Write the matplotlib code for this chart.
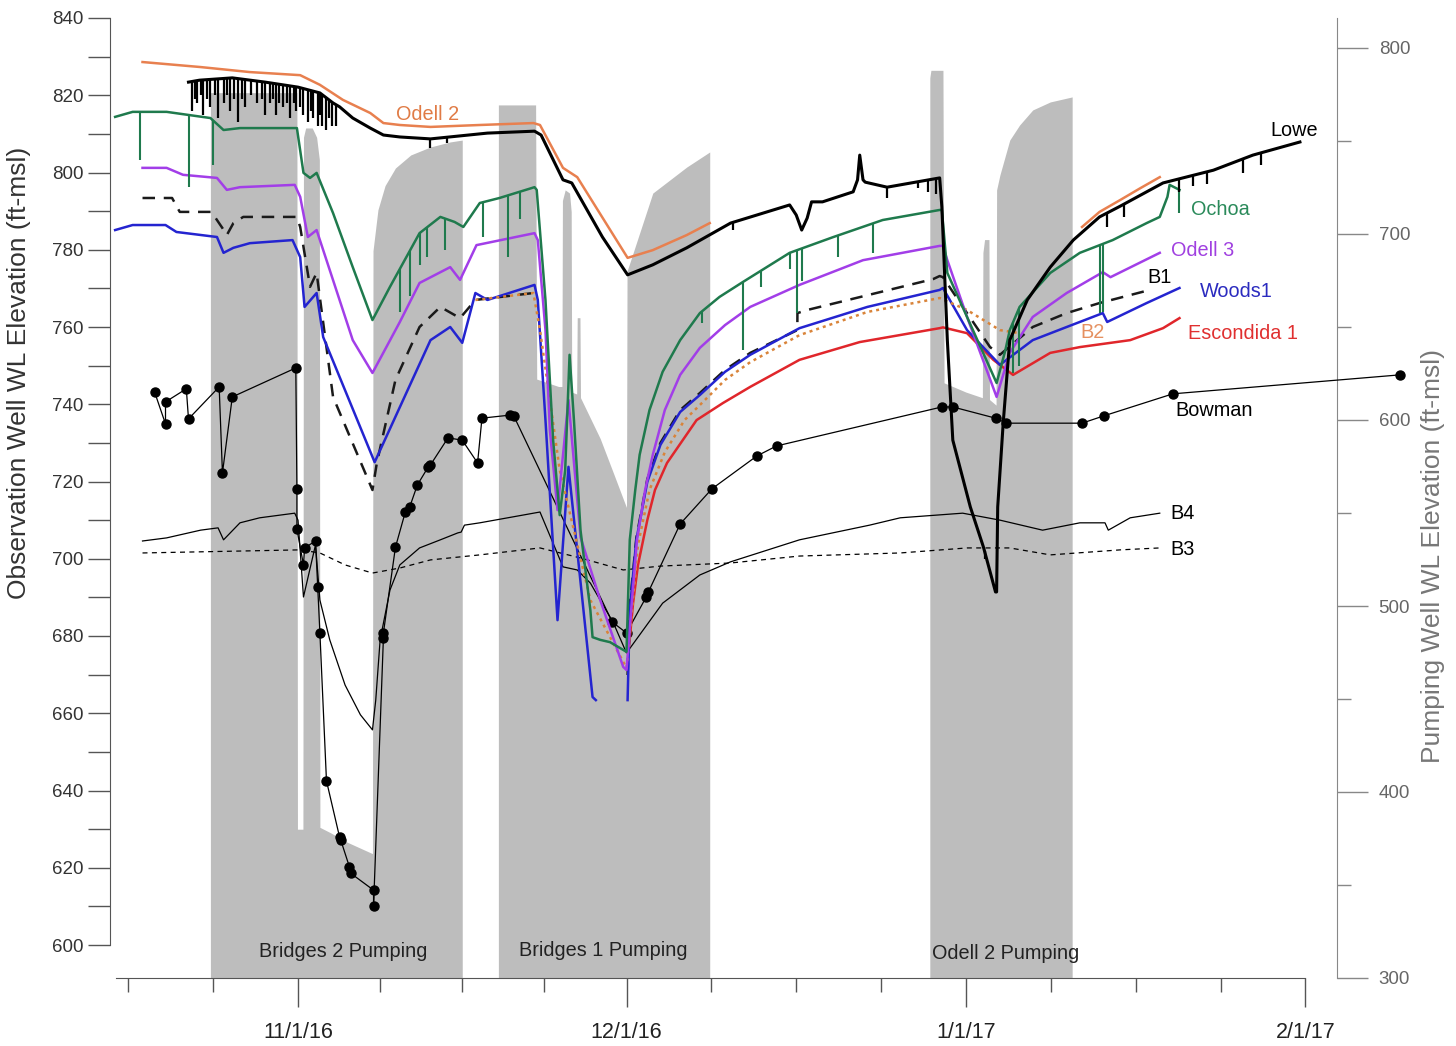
import numpy as np
import matplotlib
matplotlib.use("Agg")
import matplotlib.pyplot as plt
import matplotlib.dates as mdates
from matplotlib.ticker import FixedLocator, FuncFormatter
from datetime import datetime

plt.rcParams['font.family'] = ['Liberation Sans', 'DejaVu Sans']

BASE = datetime(2016, 11, 1)   # all times below: days after 11/1/16

# ---------------- pumping well water levels (right axis, ft-msl) ----------------
br2_pump_t = [-8.0, -0.1, -0.05, 0.45, 0.5, 0.7, 1.3, 1.7, 1.95, 2.0, 3.0, 4.5, 6.75, 6.8,
              6.85, 7.3, 7.95, 8.9, 10.3, 12.1, 13.9, 15.0]
br2_pump_ft = [776, 776, 380, 380, 752, 757, 757, 752, 740, 381, 378, 373, 367, 367,
               691, 713, 726, 735.5, 742.5, 746.8, 749.5, 750.5]
br1_pump_t = [18.3, 21.7, 21.8, 23.8, 24.1, 24.15, 24.4, 24.8, 24.95, 25.0, 25.45, 25.5, 25.75,
              25.8, 27.6, 28.9, 29.8, 30.0, 30.05, 30.6, 32.4, 35.5, 37.6]
br1_pump_ft = [769.4, 769.4, 622, 618, 618, 718, 723.7, 722, 712, 615, 614, 655, 655,
               612, 590, 570, 556, 553, 680, 689.8, 722, 736, 744.1]
od2_pump_t = [57.7, 57.8, 58.9, 59.0, 61.0, 62.5, 62.55, 62.7, 63.1, 63.15, 63.75, 63.8, 64.1,
              65.0, 65.9, 67.1, 68.7, 70.7]
od2_pump_ft = [784, 788, 788, 620, 615, 612, 690, 697, 697, 611, 608, 723.7, 731.7,
               750.5, 758.6, 766.7, 771, 773.7]

# ---------------- observation wells (left axis, ft-msl) ----------------
odell2_t = [-14.2, -8.9, -4.4, 0.2, 2.0, 4.1, 6.6, 7.8, 9.3, 12.1, 16.6, 21.5, 22.1, 24.2, 25.5,
            30.1, 32.4, 35.5, 37.6, np.nan, 71.6, 73.2, 75.1, 76.9, 78.7]
odell2_ft = [828.6, 827.3, 826.0, 825.2, 822.7, 818.8, 815.4, 812.8, 812.3, 811.8, 812.3, 812.8,
             812.3, 801.2, 798.8, 777.9, 779.9, 783.8, 786.9, np.nan, 785.9, 789.8, 792.9, 795.9, 798.8]

lowe_t = [-10.0, -9.0, -6.0, -3.0, 0.0, 2.0, 3.2, 3.8, 5.0, 6.6, 7.8, 9.3, 12.1, 17.3, 21.6, 22.2,
          24.2, 25.0, 27.8, 30.1, 32.4, 35.5, 39.5, 44.9, 45.5, 46.0, 46.5, 46.9, 47.9, 50.7, 51.1,
          51.3, 51.6, 51.8, 53.8, 58.0, 58.6, 58.8, 59.3, 59.8, 61.4, 62.6, 63.7, 63.8, 63.9, 64.3,
          64.4, 65.0, 66.6, 68.7, 70.8, 73.2, 75.1, 79.0, 83.6, 87.2, 91.5]
lowe_ft = [823.4, 823.9, 824.5, 823.4, 822.1, 820.6, 818.0, 817.0, 814.1, 811.5, 809.7, 809.2,
           808.7, 810.2, 810.7, 809.7, 798.1, 797.3, 783.3, 773.5, 776.1, 780.5, 786.9, 791.6,
           789.0, 785.1, 788.2, 792.4, 792.4, 795.0, 798.1, 804.5, 798.1, 797.5, 796.2, 798.3,
           798.6, 791.1, 756.6, 730.7, 713.4, 703.0, 691.4, 691.4, 713.4, 730.7, 735.1, 756.6,
           767.0, 775.5, 782.5, 788.5, 791.3, 797.3, 800.6, 804.5, 807.9]
lowe_spike_t = [-9.7, -9.4, -9.2, -8.9, -8.7, -8.3, -8.0, -7.6, -7.3, -6.8, -6.5, -6.2, -5.8,
                -5.5, -5.1, -4.8, -4.3, -3.7, -3.3, -3.0, -2.6, -2.3, -2.0, -1.7, -1.4, -1.0,
                -0.7, -0.4, -0.2, 0.2, 0.5, 0.9, 1.2, 1.4, 1.8, 2.0, 2.2, 2.6, 2.8, 3.1, 3.5,
                12.1, 13.6, 39.7, 53.8, 56.6, 57.5, 58.3, 62.7, 73.9, 75.4, 80.5, 81.7, 83.0,
                86.3, 87.9]
lowe_spike_ft = [816, 819, 818, 820, 815, 819, 817, 820, 814, 818, 820, 816, 819,
                 813, 819, 817, 820, 818, 819, 815, 818, 819, 815, 818, 817, 818,
                 814, 818, 816, 817, 815, 813, 816, 814, 812, 815, 812, 811, 814, 812, 812,
                 806.3, 807.6, 785, 793.4, 796, 795, 794.5, 700, 786, 788.5, 795, 796.5, 797,
                 800, 802]

ochoa_t = [-16.7, -15.1, -12.0, -8.0, -6.8, -5.3, -0.1, 0.5, 1.1, 1.7, 3.2, 5.0, 6.8, 8.4, 11.1,
           13.0, 14.3, 15.1, 16.6, 18.4, 21.6, 21.8, 22.6, 23.3, 23.9, 24.4, 24.8, 25.2, 25.8,
           26.7, 26.9, 27.6, 28.5, 29.7, 30.0, 30.3, 30.8, 31.2, 32.1, 33.3, 34.9, 36.7, 38.5,
           40.6, 44.9, 48.9, 53.4, 58.6, 58.8, 59.3, 61.1, 63.8, 64.6, 65.0, 65.9, 68.7, 71.4,
           74.4, 77.5, 78.7, 79.4, 79.6, 80.5]
ochoa_ft = [814.4, 815.7, 815.7, 814.1, 811.0, 811.5, 811.5, 799.9, 798.6, 799.9, 789.5, 775.5,
            761.8, 770.4, 784.3, 788.5, 787.2, 785.9, 792.1, 793.4, 796.2, 795.5, 767.0, 730.7,
            711.3, 722.9, 752.8, 735.9, 707.4, 686.7, 679.7, 679.0, 678.4, 676.4, 675.9, 704.9,
            717.8, 726.9, 738.5, 748.4, 756.6, 763.6, 767.8, 771.6, 779.2, 783.3, 787.7, 790.3,
            790.3, 774.0, 762.6, 745.5, 754.0, 759.2, 765.2, 774.0, 779.2, 782.5, 786.9, 788.5,
            793.7, 796.8, 795.5]
ochoa_spike_t = [-14.4, -10.0, -7.8, 9.3, 10.2, 11.1, 11.8, 13.4, 16.9, 19.2, 20.3, 36.9, 40.6,
                 42.3, 44.9, 45.6, 46.0, 49.3, 52.5, 65.3, 65.8, 73.2, 73.5, 80.5]
ochoa_spike_ft = [803.2, 796.2, 801.9, 764, 768, 776, 778.1, 780, 783.3, 778.1, 788, 761, 754.0,
                  770.4, 775, 763.6, 772, 778.1, 779.2, 748, 750, 763.6, 764, 789.5]

odell3_t = [-14.2, -12.0, -10.5, -7.4, -6.5, -5.3, -0.3, 0.2, 0.9, 1.7, 5.0, 6.8, 9.3, 11.1, 13.9,
            14.8, 16.3, 21.6, 21.9, 22.6, 23.0, 23.7, 24.7, 25.8, 27.6, 29.7, 30.0, 30.5, 30.96,
            31.7, 32.4, 33.5, 34.9, 36.7, 39.0, 41.3, 45.8, 51.6, 58.6, 58.9, 59.3, 61.1, 63.8,
            65.0, 67.1, 70.2, 73.5, 74.2, 78.7]
odell3_ft = [801.2, 801.2, 799.4, 798.6, 795.5, 796.2, 796.8, 793.7, 783.3, 785.1, 756.6, 748.1,
             761.3, 771.4, 775.5, 772.2, 781.2, 784.3, 782.5, 759.2, 733.3, 712.6, 741.1, 705.6,
             689.3, 672.0, 671.2, 689.3, 704.9, 717.8, 726.9, 738.5, 747.6, 754.6, 760.5, 765.2,
             770.9, 777.3, 781.0, 781.0, 777.3, 762.6, 741.9, 753.3, 762.6, 768.8, 774.2, 772.9,
             779.2]

b1_t = [-14.2, -11.5, -10.8, -7.9, -6.9, -6.5, -5.9, -5.0, -0.1, 0.2, 1.1, 1.7, 3.2, 6.8, 7.2,
        8.9, 11.1, 13.0, 14.8, 16.2, 21.5, np.nan, 30.1, 30.3, 30.9, 31.9, 33.1, 34.9, 36.7,
        39.0, 41.3, 45.6, 45.61, 46.5, 58.0, 58.6, 58.9, 61.1, 63.2, 64.1, 67.1, 70.2, 73.2,
        77.8]
b1_ft = [793.4, 793.4, 789.8, 789.8, 785.6, 783.8, 786.9, 788.5, 788.5, 785.9, 770.4, 774.0,
         741.9, 717.8, 724.8, 746.3, 760.0, 765.2, 762.3, 767.0, 768.8, np.nan, 669.9, 688.0,
         705.4, 720.6, 730.0, 738.5, 742.9, 748.9, 753.3, 759.2, 763.6, 764.4, 772.4, 773.2,
         772.9, 763.6, 754.8, 752.8, 760.0, 763.6, 766.2, 769.6]

woods1_t = [-16.7, -15.1, -12.1, -11.1, -7.4, -6.8, -5.9, -4.4, -0.5, 0.2, 0.6, 1.7, 2.3, 7.0,
            12.1, 13.9, 15.0, 16.2, 17.3, 21.6, 21.9, 22.6, 23.7, 24.7, 26.9, 27.2, np.nan, 30.1,
            30.3, 30.9, 31.9, 33.1, 34.9, 36.7, 39.0, 41.3, 45.8, 52.0, 58.6, 58.9, 61.1, 64.1,
            67.1, 70.2, 73.5, 73.9, 77.5, 80.5]
woods1_ft = [785.1, 786.4, 786.4, 784.6, 783.3, 779.2, 780.5, 781.7, 782.5, 778.1, 765.2, 768.8,
             757.4, 725.0, 756.6, 760.0, 755.9, 768.8, 767.0, 770.9, 767.0, 735.9, 684.1, 723.8,
             664.2, 663.4, np.nan, 663.4, 686.7, 704.9, 719.9, 729.5, 738.0, 742.4, 748.4, 752.8,
             759.7, 765.2, 769.6, 770.1, 759.2, 750.2, 756.6, 760.0, 763.6, 761.3, 766.2, 770.1]

b2_t = [16.2, 21.5, 22.1, 23.9, 26.7, 30.0, 30.5, 31.05, 32.1, 33.5, 35.3, 36.7, 39.0, 41.3,
        45.8, 52.0, 58.6, 61.1, 64.1, 65.9]
b2_ft = [767.0, 768.8, 759.2, 723.0, 689.3, 671.7, 686.7, 703.6, 717.8, 727.6, 735.9, 739.8,
         746.3, 750.9, 757.9, 763.9, 767.5, 764.4, 759.2, 758.4]

escondida_t = [30.2, 30.6, 31.05, 31.9, 32.6, 33.7, 36.4, 38.8, 41.3, 45.8, 51.3, 58.6, 58.9,
               61.1, 63.5, 65.3, 68.7, 71.4, 76.0, 79.0, 80.5]
escondida_ft = [676.4, 688.5, 698.4, 710.0, 717.8, 724.8, 735.9, 740.3, 744.5, 751.5, 756.1,
                759.7, 759.9, 758.4, 751.5, 747.6, 753.3, 754.8, 756.6, 759.7, 762.3]

bowman_t = [-13.1, -12.1, -12.1, -10.2, -10.0, -7.2, -6.9, -6.0, -0.2, -0.1, -0.1, 0.5, 0.6,
            1.6, 1.8, 2.0, 2.6, 3.8, 3.9, 4.7, 4.8, 6.9, 6.9, 7.8, 7.8, 8.9, 9.8, 10.2, 10.9,
            11.9, 12.1, 13.7, 15.0, 16.4, 16.8, 19.4, 19.7, 28.7, 30.0, 31.8, 32.0, 34.9, 37.8,
            41.9, 43.7, 58.8, 59.8, 63.7, 64.7, 71.6, 73.6, 79.9, 100.6]
bowman_ft = [743.2, 734.9, 740.6, 744.0, 736.2, 744.5, 722.2, 741.9, 749.4, 718.1, 707.7, 698.4,
             702.8, 704.6, 692.7, 680.8, 642.5, 627.9, 627.2, 620.2, 618.6, 614.2, 610.1, 679.5,
             680.8, 703.0, 712.1, 713.4, 719.1, 723.8, 724.3, 731.3, 730.7, 724.8, 736.4, 737.2,
             737.0, 683.6, 680.8, 690.1, 691.4, 709.0, 718.1, 726.6, 729.2, 739.3, 739.3, 736.4,
             735.1, 735.1, 737.0, 742.7, 747.6]

b4_t = [-14.2, -12.0, -8.9, -7.3, -6.8, -5.3, -3.5, -0.3, 0.0, 0.5, 1.6, 2.0, 2.9, 4.3, 5.7,
        6.8, 7.1, 7.5, 8.4, 9.3, 11.1, 13.0, 14.6, 14.9, 15.2, 16.6, 22.1, 24.2, 25.5, 26.7,
        28.8, 30.0, 33.3, 36.7, 39.5, 45.8, 52.2, 55.0, 60.7, 64.1, 68.0, 71.4, 73.7, 74.0,
        76.0, 78.7]
b4_ft = [704.6, 705.4, 707.4, 708.0, 704.9, 709.3, 710.6, 711.8, 710.0, 690.1, 703.6, 689.3,
         679.0, 667.3, 659.6, 655.7, 663.4, 679.0, 691.9, 698.4, 702.8, 704.9, 706.7, 706.9,
         708.7, 709.3, 712.1, 697.9, 697.1, 693.7, 683.4, 675.6, 688.5, 695.8, 699.2, 704.9,
         708.7, 710.6, 711.8, 710.0, 707.4, 709.3, 709.3, 707.4, 710.6, 711.8]

b3_t = [-14.2, 0.2, 2.0, 4.3, 6.8, 9.3, 12.1, 16.6, 22.1, 25.8, 29.7, 33.1, 39.5, 45.8, 55.0,
        61.1, 65.0, 68.7, 75.1, 78.7]
b3_ft = [701.5, 702.3, 701.5, 698.4, 696.3, 697.6, 699.7, 701.0, 702.8, 700.2, 697.1, 698.1,
         698.9, 700.7, 701.5, 702.8, 702.8, 701.0, 702.3, 702.8]

month_ticks = ["2016-11-01", "2016-12-01", "2017-01-01", "2017-02-01"]

# ---------------- figure ----------------
base_num = mdates.date2num(BASE)


def dn(t):
    return base_num + np.asarray(t, dtype=float)


W, H = 1456, 1046
fig = plt.figure(figsize=(W / 100, H / 100), dpi=100)
L, R, T, B = 110, 1337, 18, 978
ax = fig.add_axes([L / W, 1 - B / H, (R - L) / W, (B - T) / H])
ax2 = ax.twinx()
ax.set_zorder(ax2.get_zorder() + 1)
ax.patch.set_visible(False)

gray = '#bdbdbd'
for tt, ff in [(br2_pump_t, br2_pump_ft), (br1_pump_t, br1_pump_ft), (od2_pump_t, od2_pump_ft)]:
    ax2.fill_between(dn(tt), 300, ff, color=gray, lw=0)

x0 = base_num + (L - 298) / 10.95
x1 = base_num + (R - 298) / 10.95
ax.set_xlim(x0, x1)
ax2.set_xlim(x0, x1)
ax.set_ylim(840 - (B - T) / 3.8625, 840)
ax2.set_ylim(300, 800 + 30 / 1.86)

# lines
ax.plot(dn(b3_t), b3_ft, color='black', lw=0.9, dashes=(4, 3.5))
ax.plot(dn(b4_t), b4_ft, color='black', lw=0.9)
ax.plot(dn(bowman_t), bowman_ft, color='black', lw=0.9, marker='o', ms=6.5, clip_on=False)
ax.plot(dn(escondida_t), escondida_ft, color='#e0262b', lw=1.8)
ax.plot(dn(b1_t), b1_ft, color='#1a1a1a', lw=1.8, dashes=(5, 3.5))
ax.plot(dn(woods1_t), woods1_ft, color='#2424d0', lw=1.8)
ax.plot(dn(b2_t), b2_ft, color='#d9843a', lw=1.8, dashes=(1.2, 1.6))
ax.plot(dn(odell3_t), odell3_ft, color='#a23ee8', lw=1.8)
ax.plot(dn(ochoa_t), ochoa_ft, color='#1f7a4d', lw=1.8)
ax.vlines(dn(ochoa_spike_t), ochoa_spike_ft, np.interp(ochoa_spike_t, ochoa_t, ochoa_ft),
          color='#1f7a4d', lw=1.5)
ax.plot(dn(odell2_t), odell2_ft, color='#e8804f', lw=1.8)
ax.plot(dn(lowe_t), lowe_ft, color='black', lw=2.2)
ax.vlines(dn(lowe_spike_t), lowe_spike_ft, np.interp(lowe_spike_t, lowe_t, lowe_ft),
          color='black', lw=1.6)

# labels
fs = 14.3
lab = dict(fontsize=fs, ha='center', va='center')
ax.text(dn(11.8), 814.9, 'Odell 2', color='#e07b45', **lab)
ax.text(dn(91.0), 811.0, 'Lowe', color='black', **lab)
ax.text(dn(84.2), 790.3, 'Ochoa', color='#2a8a5a', **lab)
ax.text(dn(82.6), 779.9, 'Odell 3', color='#a040e0', **lab)
ax.text(dn(78.7), 772.9, 'B1', color='black', **lab)
ax.text(dn(85.7), 769.1, 'Woods1', color='#2b2bbf', **lab)
ax.text(dn(72.6), 758.7, 'B2', color='#e59060', **lab)
ax.text(dn(86.3), 758.4, 'Escondida 1', color='#e03030', **lab)
ax.text(dn(83.7), 738.5, 'Bowman', color='black', **lab)
ax.text(dn(80.8), 711.8, 'B4', color='black', **lab)
ax.text(dn(80.8), 702.5, 'B3', color='black', **lab)
ax.text(dn(4.1), 598.2, 'Bridges 2 Pumping', color='#222222', **lab)
ax.text(dn(27.9), 598.7, 'Bridges 1 Pumping', color='#222222', **lab)
ax.text(dn(64.6), 597.9, 'Odell 2 Pumping', color='#222222', **lab)

# spines
for s in ['top', 'right']:
    ax.spines[s].set_visible(False)
for s in ['top', 'left', 'bottom']:
    ax2.spines[s].set_visible(False)
ax.spines['left'].set_bounds(600, 840)
ax.spines['bottom'].set_bounds(base_num - 16.6, mdates.date2num(datetime(2017, 2, 1)))
ax.spines['left'].set_color('#555555')
ax.spines['bottom'].set_color('#555555')
ax2.spines['right'].set_color('#888888')

# x ticks
mt = [mdates.date2num(datetime.strptime(s, "%Y-%m-%d")) for s in month_ticks]
ax.xaxis.set_major_locator(FixedLocator(mt))
ax.xaxis.set_major_formatter(FuncFormatter(
    lambda v, p: (lambda d: f"{d.month}/{d.day}/{d.strftime('%y')}")(mdates.num2date(v))))
starts = [mdates.date2num(datetime(2016, 10, 1))] + mt
minor = []
for a, b in zip(starts[:-1], starts[1:]):
    for k in (1, 2, 3):
        v = a + k * (b - a) / 4
        if v > base_num - 16.6:
            minor.append(v)
ax.xaxis.set_minor_locator(FixedLocator(minor))
ax.tick_params(axis='x', which='major', length=21, width=1, pad=11, labelsize=15.5,
               colors='#555555', labelcolor='#222222')
ax.tick_params(axis='x', which='minor', length=10, width=1, colors='#555555')

# left y ticks
ax.set_yticks([v for v in range(600, 841, 20)])
ax.set_yticks([v for v in range(610, 840, 20)], minor=True)
ax.tick_params(axis='y', which='both', length=16, width=1, pad=3, labelsize=13.5,
               colors='#555555', labelcolor='#333333')

# right y ticks
ax2.set_yticks(list(range(300, 801, 100)))
ax2.set_yticks(list(range(350, 800, 100)), minor=True)
ax2.tick_params(axis='y', which='major', length=22, width=1, pad=8, labelsize=13.5,
                colors='#888888', labelcolor='#666666')
ax2.tick_params(axis='y', which='minor', length=10, width=1, colors='#888888')

ax.set_ylabel('Observation Well WL Elevation (ft-msl)', fontsize=19, color='#333333')
ax.yaxis.set_label_coords(-0.064, 0.63)
ax2.set_ylabel('Pumping Well WL Elevation (ft-msl)', fontsize=19, color='#777777',
               rotation=90)
ax2.yaxis.set_label_coords(1.0685, 0.44)

fig.savefig('out.png', dpi=100)
